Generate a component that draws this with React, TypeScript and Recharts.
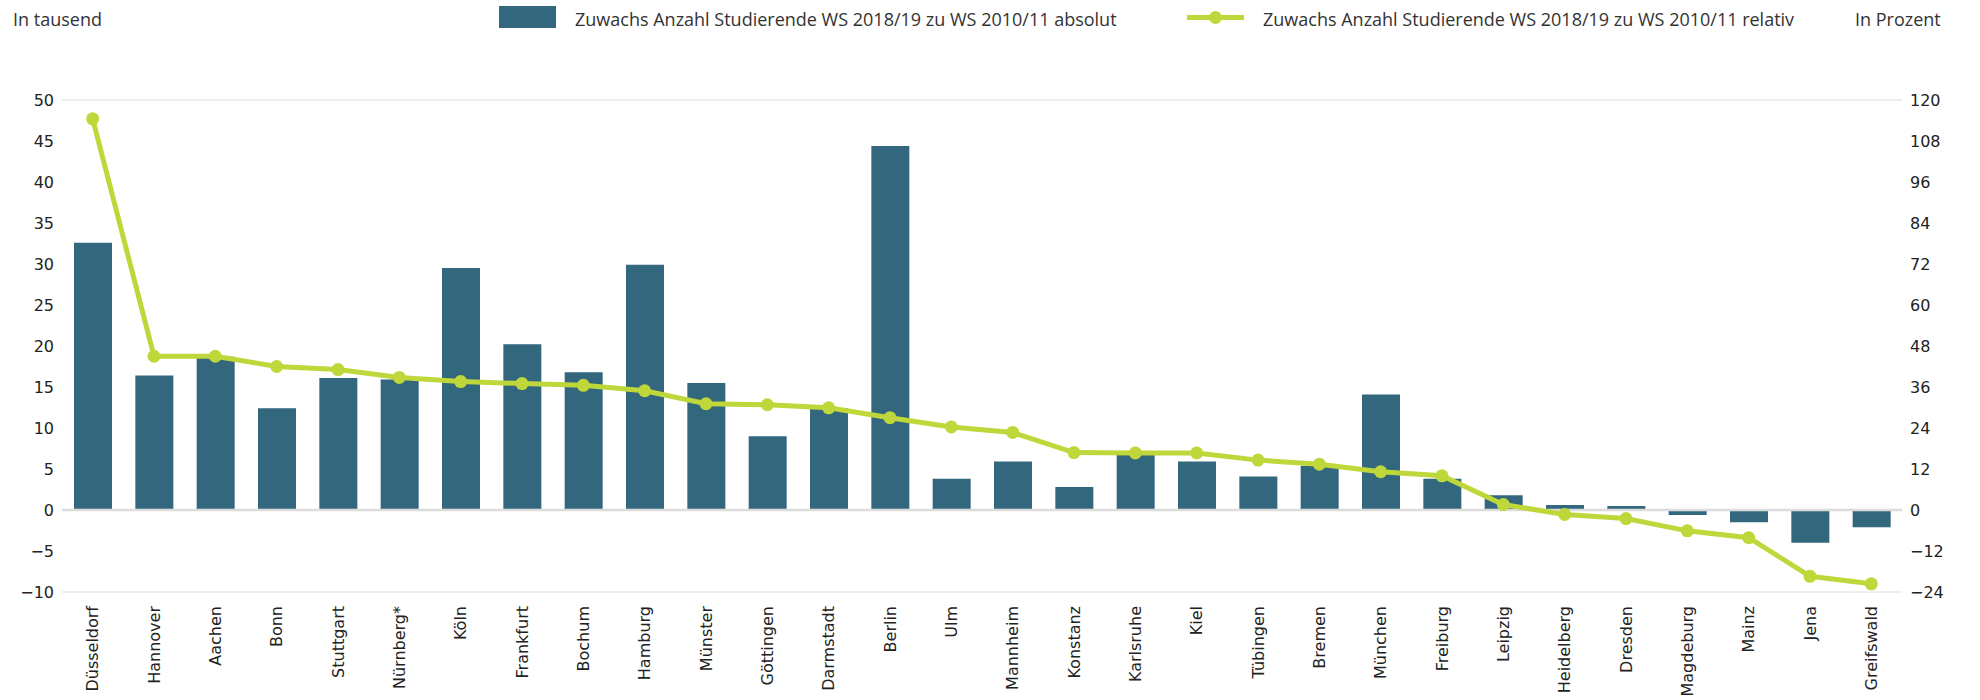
import {
  ComposedChart,
  Bar,
  Line,
  XAxis,
  YAxis,
  CartesianGrid,
  ReferenceLine,
} from "recharts";

document.body.style.margin = "0";

const cities = [
  "Düsseldorf", "Hannover", "Aachen", "Bonn", "Stuttgart", "Nürnberg*", "Köln",
  "Frankfurt", "Bochum", "Hamburg", "Münster", "Göttingen", "Darmstadt", "Berlin",
  "Ulm", "Mannheim", "Konstanz", "Karlsruhe", "Kiel", "Tübingen", "Bremen",
  "München", "Freiburg", "Leipzig", "Heidelberg", "Dresden", "Magdeburg", "Mainz",
  "Jena", "Greifswald",
];

// in tausend
const absolut = [
  32.6, 16.4, 18.7, 12.4, 16.1, 15.9, 29.5, 20.2, 16.8, 29.9, 15.5, 9.0, 12.4, 44.4,
  3.8, 5.9, 2.8, 6.7, 5.9, 4.1, 5.4, 14.1, 3.8, 1.8, 0.6, 0.5, -0.6, -1.5, -4.0, -2.1,
];

// in Prozent
const relativ = [
  114.5, 45.0, 45.0, 42.0, 41.1, 38.8, 37.6, 37.0, 36.5, 34.9, 31.1, 30.8, 29.9, 27.0,
  24.3, 22.7, 16.8, 16.7, 16.7, 14.6, 13.4, 11.2, 10.0, 1.6, -1.3, -2.5, -6.1, -8.1,
  -19.4, -21.6,
];

const leftTicks = [-10, -5, 0, 5, 10, 15, 20, 25, 30, 35, 40, 45, 50];
const rightTicks = [-24, -12, 0, 12, 24, 36, 48, 60, 72, 84, 96, 108, 120];

const data = cities.map((city, i) => ({
  city,
  absolut: absolut[i],
  relativ: relativ[i],
}));

const BAR = "#33677e";
const LINE = "#bfd73a";
const headerFont = "'Open Sans', sans-serif";
const tickFont = "'DejaVu Sans', sans-serif";

const fmt = (v: number) => (v < 0 ? `\u2212${Math.abs(v)}` : `${v}`);

function CityTick({ x, y, payload }: any) {
  return (
    <g transform={`translate(${x},${y})`}>
      <text
        transform="rotate(-90)"
        x={-6}
        y={0}
        dy="0.35em"
        textAnchor="end"
        fontFamily={tickFont}
        fontSize={16}
        fill="#222"
      >
        {payload.value}
      </text>
    </g>
  );
}

export default function App() {
  const textStyle = {
    position: "absolute" as const,
    top: 7,
    fontFamily: headerFont,
    fontSize: 18,
    lineHeight: "24px",
    color: "#333",
    whiteSpace: "nowrap" as const,
  };

  return (
    <div style={{ position: "relative", width: 1980, height: 700, background: "#fff" }}>
      <div style={{ ...textStyle, left: 13 }}>In tausend</div>

      <div style={{ position: "absolute", left: 499, top: 6, width: 57, height: 22, background: BAR }} />
      <div style={{ ...textStyle, left: 575 }}>
        Zuwachs Anzahl Studierende WS 2018/19 zu WS 2010/11 absolut
      </div>

      <div style={{ position: "absolute", left: 1187, top: 15, width: 57, height: 5, background: LINE }} />
      <div
        style={{
          position: "absolute",
          left: 1209,
          top: 11,
          width: 13,
          height: 13,
          borderRadius: "50%",
          background: LINE,
        }}
      />
      <div style={{ ...textStyle, left: 1263 }}>
        Zuwachs Anzahl Studierende WS 2018/19 zu WS 2010/11 relativ
      </div>
      <div style={{ ...textStyle, left: 1855 }}>In Prozent</div>

      <ComposedChart
        width={1980}
        height={700}
        data={data}
        margin={{ top: 100, right: 8, bottom: 8, left: 7 }}
      >
        <CartesianGrid vertical={false} stroke="#e8e8e8" strokeWidth={1.5} />
        <XAxis
          dataKey="city"
          interval={0}
          height={100}
          tickLine={false}
          axisLine={false}
          tick={<CityTick />}
        />
        <YAxis
          yAxisId="left"
          domain={[-10, 50]}
          ticks={leftTicks}
          width={55}
          tickLine={false}
          axisLine={false}
          tickFormatter={fmt}
          tick={{ fontFamily: tickFont, fontSize: 16, fill: "#222" }}
        />
        <YAxis
          yAxisId="right"
          orientation="right"
          domain={[-24, 120]}
          ticks={rightTicks}
          width={70}
          tickLine={false}
          axisLine={false}
          tickFormatter={fmt}
          tick={{ fontFamily: tickFont, fontSize: 16, fill: "#222" }}
        />
        <ReferenceLine yAxisId="left" y={0} stroke="#dcdcdc" strokeWidth={2.5} />
        <Bar
          yAxisId="left"
          dataKey="absolut"
          fill={BAR}
          barSize={38}
          isAnimationActive={false}
        />
        <Line
          yAxisId="right"
          type="linear"
          dataKey="relativ"
          stroke={LINE}
          strokeWidth={5}
          dot={{ r: 6.5, fill: LINE, stroke: "none" }}
          activeDot={false}
          isAnimationActive={false}
        />
      </ComposedChart>
    </div>
  );
}
